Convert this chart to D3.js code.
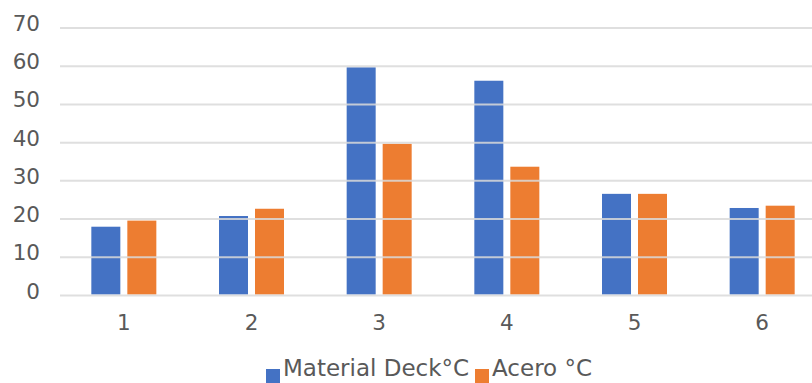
<!DOCTYPE html>
<html>
<head>
<meta charset="utf-8">
<script src="https://cdn.jsdelivr.net/npm/d3@7"></script>
<style>
  html, body { margin: 0; padding: 0; background: #fff; }
  svg { display: block; }
  text { font-family: "DejaVu Sans", Verdana, sans-serif; fill: #595959; }
</style>
</head>
<body>
<svg id="chart" width="812" height="383"></svg>
<script>
const categories = ["1", "2", "3", "4", "5", "6"];
const seriesNames = ["Material Deck°C", "Acero °C"];
const deckValues = [18, 20.8, 59.7, 56.2, 26.6, 22.9];
const aceroValues = [19.6, 22.7, 39.7, 33.7, 26.6, 23.5];
const yTicks = [0, 10, 20, 30, 40, 50, 60, 70];
const colors = ["#4472C4", "#ED7D31"];

const svg = d3.select("#chart");
const W = 812, H = 383;
const plot = { left: 60, right: 826, top: 28, bottom: 295.5 };

const x = d3.scaleBand().domain(categories).range([plot.left, plot.right]).paddingInner(0).paddingOuter(0);
const y = d3.scaleLinear().domain([0, 70]).range([plot.bottom, plot.top]);
const barW = 29, gap = 7;
const xs = d3.scaleBand().domain(seriesNames).range([0, barW * 2 + gap]).paddingInner(gap / (barW + gap)).paddingOuter(0);

// bars
const data = categories.map((c, i) => ({ cat: c, vals: [deckValues[i], aceroValues[i]] }));
const groupW = barW * 2 + gap;
const groups = svg.append("g").selectAll("g").data(data).join("g")
  .attr("transform", d => `translate(${x(d.cat) + (x.bandwidth() - groupW) / 2},0)`);
groups.selectAll("rect").data(d => d.vals.map((v, j) => ({ v, s: seriesNames[j], j }))).join("rect")
  .attr("x", d => xs(d.s)).attr("width", xs.bandwidth())
  .attr("y", d => y(d.v)).attr("height", d => y(0) - y(d.v) - 1)
  .attr("fill", d => colors[d.j]);

// gridlines (drawn over bars, as in reference)
svg.append("g").selectAll("line").data(yTicks).join("line")
  .attr("x1", plot.left).attr("x2", W)
  .attr("y1", d => y(d)).attr("y2", d => y(d))
  .attr("stroke", "#d9d9d9").attr("stroke-width", 2).attr("stroke-opacity", 0.85);

// y labels
const yAxis = d3.axisLeft(y).tickValues(yTicks).tickSize(0).tickPadding(0);
const yg = svg.append("g").attr("transform", "translate(40,0)").call(yAxis);
yg.select(".domain").remove();
yg.selectAll("text").attr("font-size", 21.5).attr("fill", "#595959")
  .attr("font-family", "DejaVu Sans, Verdana, sans-serif")
  .attr("dy", null).attr("y", 2.5);

// x labels
const xAxis = d3.axisBottom(x).tickSize(0).tickPadding(0);
const xg = svg.append("g").attr("transform", `translate(0,${plot.bottom})`).call(xAxis);
xg.select(".domain").remove();
xg.selectAll("text").attr("font-size", 21.5).attr("fill", "#595959")
  .attr("font-family", "DejaVu Sans, Verdana, sans-serif")
  .attr("dy", null).attr("y", 34.5);

// legend
const legend = svg.append("g");
const legendItems = [
  { name: seriesNames[0], color: colors[0], sx: 266, tx: 283 },
  { name: seriesNames[1], color: colors[1], sx: 475, tx: 492 }
];
legendItems.forEach(it => {
  legend.append("rect").attr("x", it.sx).attr("y", 369).attr("width", 14).attr("height", 14).attr("fill", it.color);
  legend.append("text").attr("x", it.tx).attr("y", 376).attr("font-size", 23).text(it.name);
});
</script>
</body>
</html>
